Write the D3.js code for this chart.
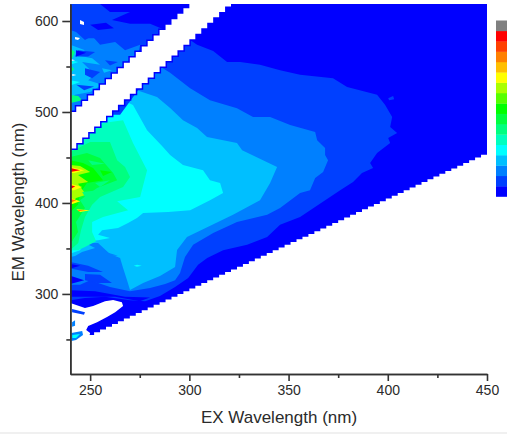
<!DOCTYPE html>
<html><head><meta charset="utf-8">
<script src="https://cdn.jsdelivr.net/npm/d3@7"></script>
<style>html,body{margin:0;padding:0;background:#fff}svg{display:block}text{font-family:"Liberation Sans",Arial,sans-serif;fill:#2b2b2b}</style>
</head><body><svg id="c" width="507" height="434"></svg>
<script>
// ---- axis ticks and labels
const exMajor=[250,300,350,400,450];
const exMinor=[275,325,375,425];
const emMajor=[300,400,500,600];
const emMinor=[250,350,450,550];
const exTitle="EX Wavelength (nm)";
const emTitle="EM Wavelength (nm)";
// ---- colour levels, low to high
const levelColors=["#0000ff","#0040ff","#0080ff","#00bfff","#00ffff","#00ffbf","#00ff80","#00ff40","#00ff00","#55ff00","#aaff00","#ffff00","#ffbf00","#ff8000","#ff4000","#ff0000","#808080"];
// ---- filled contour outlines [EX nm, EM nm]
const mainL1=[[240,480],[300.4,579],[303.9,574],[312,567],[319,555],[325.6,555],[335.6,552],[345.7,546],[355.8,541],[372.4,537],[379.5,527.5],[394.6,519],[398.6,508],[402.2,494.5],[401.2,483.5],[404.7,477],[400.2,471.5],[401.2,466],[394.6,455],[391.1,444],[392.6,438.5],[387,433],[382.5,423],[376,414],[355.8,384.6],[345.7,376],[339.2,362.6],[329.1,354],[317,348],[309,339.5],[304.4,332],[299.4,317.5],[292.8,307.6],[285.2,297.7],[277.7,292],[270.1,293],[257.5,297],[247.4,295.5],[240,293]];
const isletL1=[[400.2,515],[402.7,517.5],[403.2,514],[400.7,513]];
const mainL2=[[240,480],[280.2,557],[290.3,543],[300.4,526],[310.4,513],[324,504],[332.1,494.5],[340.7,494.5],[350.8,485.7],[363.4,478],[364.4,469],[368.4,460.4],[368.4,452.7],[369.9,447],[367.4,434],[363.4,427.4],[360.8,414],[355.8,411],[345.7,394.5],[339.2,387],[324,379],[312,367],[301.9,354],[297.8,340.6],[295.3,323],[292.8,315],[287.8,311],[280.2,306.5],[270.1,303],[260,307.6],[250,315],[244.9,310],[240,310]];
const mainL3=[[240,480],[267.6,535],[273.6,524],[283.7,516.5],[290.3,504.4],[296.8,491],[303.9,482.4],[308.9,472.5],[324,466],[326.6,458],[344.2,439.5],[340.7,422],[335.6,403],[322,387],[298.8,362.6],[293.8,348.3],[292.8,329.6],[285.2,319.7],[276.7,312],[270.1,304.3],[268.6,315],[266.6,328.5],[265.1,339.5],[260,344],[254,356],[247.4,356],[252.5,350.5],[245.9,346],[242.4,341.7],[240,340.6]];
const mainL4=[[240,474.7],[262.6,522],[266.6,513],[271.6,507.7],[278.7,480],[286.7,461.5],[290.3,452.7],[296.8,441.7],[306.9,436],[310.4,425],[315.5,422],[317,411],[310.4,403],[300.4,392],[289.3,390],[276.7,389],[273.6,383.5],[269.1,378],[264.1,372.5],[256,370],[254,365],[260,361.5],[254,359],[247.4,358],[244.9,348],[240.9,345],[240,345]];
const mainL5=[[240,458],[247.4,472.5],[256.5,488],[266.6,491],[271.6,466],[278.7,436],[275.2,406.6],[263.6,402],[269.1,392],[256.5,384.6],[251,379],[251,368],[253,358],[247.4,351.6],[243.9,348],[240,348]];
const mainL6=[[240,456],[250,467],[260,467],[263.6,447],[267.6,439.5],[270.1,428.5],[266.6,417.6],[255,406.6],[251,398],[247.4,384.6],[245.4,370],[244,356],[240.9,350],[240,350]];
const mainL7=[[240,450.5],[248.4,455],[255,449.4],[261.6,433],[263.6,425],[253.5,416.4],[244.9,403],[247.4,394.5],[242.9,379],[243.9,368],[240.9,358],[240,358]];
const mainL8=[[240,447],[246.4,444],[251.5,438.4],[256.5,425],[248.4,422],[244.9,411],[243.9,398],[240,390]];
const mainL10=[[240,441.7],[244.9,440.6],[250,434],[243.9,430.7],[249,423],[243.9,421],[248,409],[242.9,405.5],[240,398]];
const spikeYellowA=[[240,439.5],[247,436],[242,433],[240,433]];
const spikeYellowB=[[240,421],[246,417.6],[242,414],[240,414]];
const spikeYellowC=[[240,405.5],[245,402],[241,399],[240,399]];
const spikeYellowD=[[243,393],[250,392],[245,390]];
const spikeRedA=[[240,438.4],[245,436],[240,434]];
const spikeRedB=[[240,419.6],[242.5,418.5],[240,415]];
const spikeOrangeC=[[240,404.4],[243,403],[240,400]];
const spikeOrangeD=[[244,392.3],[248,392],[244,391]];
const speckCyan=[[272,331],[273.6,332],[276,331],[273.6,330]];
const tealA=[[249,447],[257.5,443],[251,441.7]];
const tealB=[[252.5,422],[260,425],[255,417.6]];
const tealC=[[246,412],[254,414],[247.4,406.6]];
const greenA=[[255,436],[261,434],[256.5,429.6]];
// ---- noisy short-wavelength streaks
const streakL1a=[[240,335],[249,331],[256.5,324],[249,324],[240,328]];
const streakL1b=[[247.4,322],[255,321],[261,312],[253.5,312],[247.4,315]];
const streakL0a=[[240,320],[247,315],[240,311]];
const streakL0b=[[240,333],[245,331],[240,328]];
const streakL0c=[[240,304],[252.5,303],[267.6,297],[280.2,296],[275,292],[262.6,297],[250,297],[240,297]];
const streakL2a=[[255,348],[264,342],[256,342]];
// ---- wedge above the scatter band
const upperL1=[[240,618.7],[255,618.7],[260,610],[270.1,610],[261,601],[270.1,597],[280.2,597],[287.8,590],[287.8,574],[292.8,579],[265.1,497],[240,497]];
const upperL2=[[240,590],[242.9,588],[247.4,579],[251,583.5],[255,574],[262.6,577],[267.6,568],[275.2,574],[273.6,557],[269.1,544],[264.1,530],[257.5,515.4],[250,502],[240,493]];
const upperL3=[[240,574],[247.4,568],[242.4,562.6],[251,559],[255,552],[245.9,555],[252.5,541],[249,535],[256,530],[250,522],[242.4,519],[240,513]];
const upperS1=[[247.4,587],[256,584.6],[253,581],[247.4,581]];
const upperS2=[[244,568],[252.5,566],[249,561],[242.4,561]];
const upperS3=[[247.4,548],[255,544],[251,537],[247.4,541]];
const upperS4=[[257.5,557],[264,555],[260,551]];
const upperS5=[[243,530],[252,528],[247,524]];
const upperD1=[[242.9,568],[248,565],[242.9,561]];
const upperD2=[[250,596],[258,598],[262,592],[254,590]];
const upperC1=[[240,557],[244,555],[240,552]];
const upperC2=[[240,535],[245,533],[240,529]];
const upperB1=[[256,548],[261,546],[257,543]];
const upperG1=[[240,518.7],[244,517.6],[246,513],[242.4,511],[240,510]];
const upperG2=[[240,570],[242.4,566],[241,559],[240,559]];
const upperG3=[[240.5,550.5],[242,547],[240.5,544]];
const layerList=[[1,mainL1],[1,isletL1],[2,mainL2],[3,mainL3],[4,mainL4],[5,mainL5],[6,mainL6],[7,mainL7],[8,mainL8],[10,mainL10],[11,spikeYellowA],[11,spikeYellowB],[11,spikeYellowC],[11,spikeYellowD],[15,spikeRedA],[15,spikeRedB],[13,spikeOrangeC],[13,spikeOrangeD],[4,speckCyan],[6,tealA],[6,tealB],[6,tealC],[8,greenA],[1,streakL1a],[1,streakL1b],[0,streakL0a],[0,streakL0b],[0,streakL0c],[2,streakL2a],[1,upperL1],[2,upperL2],[3,upperL3],[1,upperS1],[1,upperS2],[1,upperS3],[1,upperS4],[1,upperS5],[0,upperD1],[0,upperD2],[4,upperC1],[4,upperC2],[3,upperB1],[6,upperG1],[6,upperG2],[6,upperG3]];
// ---- regions with no signal, then small patches inside them
const holeMain=[[240,290],[247.4,284.5],[251.5,286.7],[257.5,292],[261.6,293.3],[266,291],[266.6,286.7],[262.6,280],[258.5,274.6],[253.5,269],[249,264.8],[248,260.4],[250,257],[249,249.4],[240,243.9]];
const holeSpeck1=[[244.9,601],[246.9,599],[246.9,595.6],[244.9,596.7]];
const holeSpeck2=[[242.4,582.4],[244.9,581.3],[243.9,579],[242.4,580]];
const holeSpeck3=[[240.5,558],[242.4,557],[240.5,556]];
const holeSpeck4=[[241,541.8],[243,540.7],[241,539.6]];
const holeList=[holeMain,holeSpeck1,holeSpeck2,holeSpeck3,holeSpeck4];
const islandA=[[240.9,283.4],[247.4,280],[246.9,277],[240.9,280]];
const islandB=[[240.9,269],[242.4,271],[242.4,265],[240.9,264]];
const islandC=[[240.5,257],[246,259.3],[246.4,255],[242.9,249.4],[240.5,248.3]];
const islandD=[[241,255],[244.9,256],[242.9,251.6],[241,251.6]];
const islandList=[[1,islandA],[2,islandB],[2,islandC],[4,islandD]];
// ---- scatter band and floor edges (stepped by instrument increment)
const gapEx=[240,243,246,249,252,255,258,261,264,267,270,273,276,279,282,285,288,291,294,297,300,303,306,309,312,315,318,321];
const gapLow=[460,466,472,478,484,490,496,502,508,514,520,526,532,538,544,550,556,562,568,574,580,586,592,598,604,610,616,622];
const gapHigh=[500,506,512,518,524,530,536,542,548,554,560,566,572,578,584,590,596,602,608,614,620,626,632,638,644,650,656,662];
const floorEx=[240,243,246,249,252,255,258,261,264,267,270,273,276,279,282,285,288,291,294,297,300,303,306,309,312,315,318,321,324,327,330,333,336,339,342,345,348,351,354,357,360,363,366,369,372,375,378,381,384,387,390,393,396,399,402,405,408,411,414,417,420,423,426,429,432,435,438,441,444,447,450];
const floorEm=[246,249,252,255,258,261,264,267,270,273,276,279,282,285,288,291,294,297,300,303,306,309,312,315,318,321,324,327,330,333,336,339,342,345,348,351,354,357,360,363,366,369,372,375,378,381,384,387,390,393,396,399,402,405,408,411,414,417,420,423,426,429,432,435,438,441,444,447,450,453,454];

const svg=d3.select("#c");
const x=d3.scaleLinear().domain([240,450]).range([70.3,487]);
const y=d3.scaleLinear().domain([212,618.7]).range([374,4]);
const ink="#333";
svg.append("defs").append("clipPath").attr("id","plot").append("rect")
  .attr("x",x(240)).attr("y",y(618.7)).attr("width",x(450)-x(240)).attr("height",y(212)-y(618.7));
const plot=svg.append("g").attr("clip-path","url(#plot)");
plot.append("rect").attr("x",x(240)).attr("y",y(618.7)).attr("width",x(450)-x(240)).attr("height",y(212)-y(618.7)).attr("fill",levelColors[0]);
const poly=d3.line().x(d=>x(d[0])).y(d=>y(d[1])).curve(d3.curveLinearClosed);
plot.selectAll("path.band").data(layerList).join("path").attr("class","band")
  .attr("d",d=>poly(d[1])).attr("fill",d=>levelColors[d[0]]);
plot.selectAll("path.hole").data(holeList).join("path").attr("class","hole").attr("d",poly).attr("fill","#fff");
plot.selectAll("path.island").data(islandList).join("path").attr("class","island")
  .attr("d",d=>poly(d[1])).attr("fill",d=>levelColors[d[0]]);
const gapArea=d3.area().x((d,i)=>x(d)).y0((d,i)=>y(gapLow[i])).y1((d,i)=>y(gapHigh[i])).curve(d3.curveStepAfter);
plot.append("path").attr("d",gapArea(gapEx)).attr("fill","#fff").attr("stroke",levelColors[0]).attr("stroke-width",3).attr("paint-order","stroke");
const floorArea=d3.area().x(d=>x(d)).y0(y(212)).y1((d,i)=>y(floorEm[i])).curve(d3.curveStepAfter);
plot.append("path").attr("d",floorArea(floorEx)).attr("fill","#fff");
// colour bar
const bar=d3.scaleBand().domain(d3.range(levelColors.length)).range([196.5,20.5]);
svg.selectAll("rect.cb").data(levelColors).join("rect").attr("class","cb")
  .attr("x",496).attr("width",11).attr("y",(d,i)=>bar(i)).attr("height",bar.bandwidth()+0.3).attr("fill",d=>d);
// axes
function styleAxis(g){g.select(".domain").attr("stroke",ink).attr("stroke-width",1.6);
  g.selectAll("line").attr("stroke",ink).attr("stroke-width",1.6);
  g.selectAll("text").style("font-size","14px").style("fill","#2b2b2b");}
const xg=svg.append("g").attr("transform",`translate(0,${y(212)})`);
xg.call(d3.axisBottom(x).tickValues(exMajor).tickFormat(d3.format("d")).tickSize(7).tickPadding(4).tickSizeOuter(0)).call(styleAxis);
const xm=svg.append("g").attr("transform",`translate(0,${y(212)})`);
xm.call(d3.axisBottom(x).tickValues(exMinor).tickFormat("").tickSize(4).tickSizeOuter(0)).call(styleAxis);
const yg=svg.append("g").attr("transform",`translate(${x(240)},0)`);
yg.call(d3.axisLeft(y).tickValues(emMajor).tickFormat(d3.format("d")).tickSize(8).tickPadding(4).tickSizeOuter(0)).call(styleAxis);
const ym=svg.append("g").attr("transform",`translate(${x(240)},0)`);
ym.call(d3.axisLeft(y).tickValues(emMinor).tickFormat("").tickSize(4).tickSizeOuter(0)).call(styleAxis);
svg.append("text").attr("x",279).attr("y",423).attr("text-anchor","middle").style("font-size","17px").text(exTitle);
svg.append("text").attr("transform","translate(24,202) rotate(-90)").attr("text-anchor","middle").style("font-size","17px").text(emTitle);
svg.append("rect").attr("x",0).attr("y",432).attr("width",507).attr("height",2).attr("fill","#f0f0f0");
</script></body></html>
